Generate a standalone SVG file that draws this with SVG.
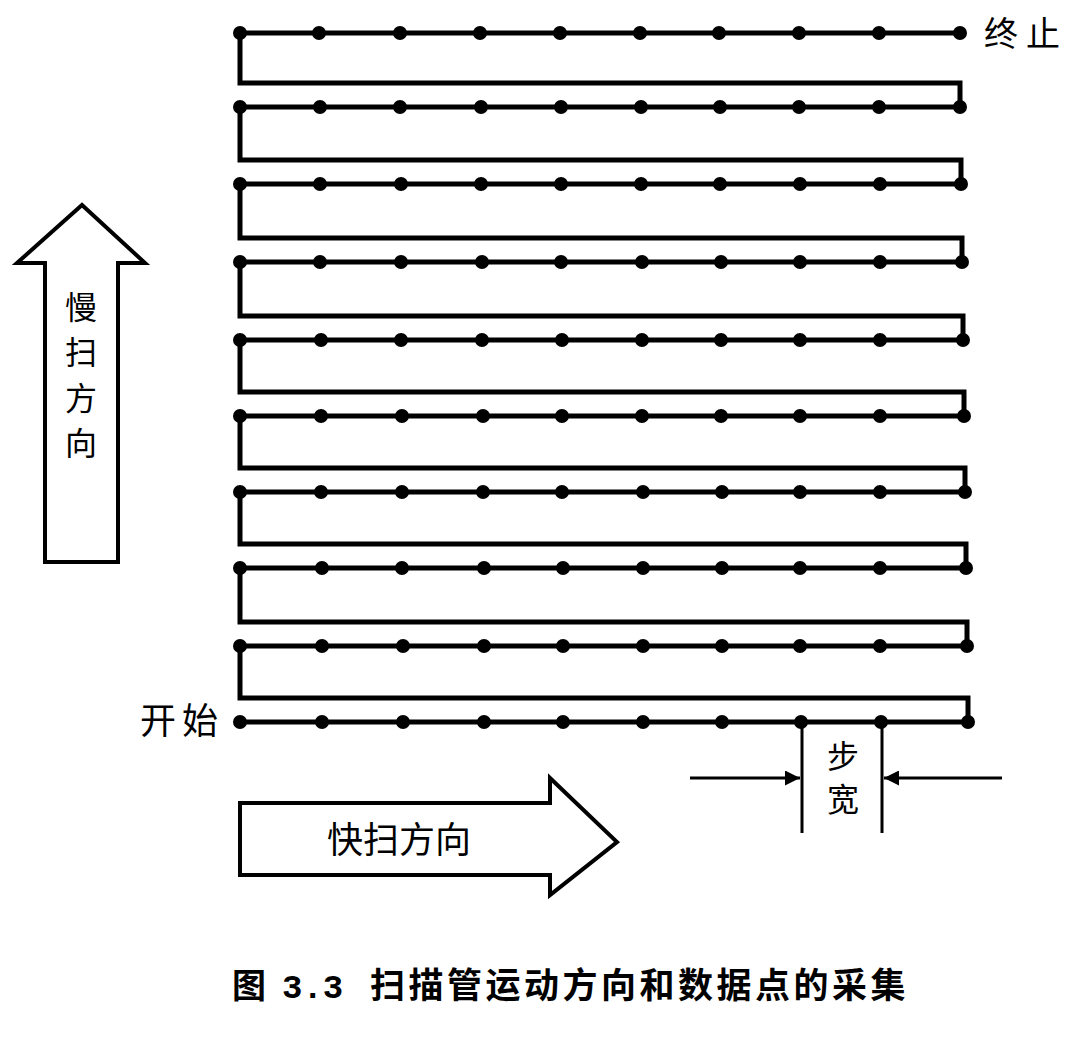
<svg xmlns="http://www.w3.org/2000/svg" width="1080" height="1043" viewBox="0 0 1080 1043">
<style>
.scan{fill:none;stroke:#000;stroke-width:5;stroke-linejoin:miter}
.dot{fill:#000}
.arrow{fill:#fff;stroke:#000;stroke-width:4;stroke-linejoin:miter}
.t{font-family:"Noto Sans CJK SC","Liberation Sans",sans-serif;fill:#000}
.dim{stroke:#000;stroke-width:3;fill:none}
.cap{font-family:"Noto Sans CJK SC","Liberation Sans",sans-serif;font-weight:bold;fill:#000}
.num{font-family:"Liberation Mono",monospace;font-weight:bold;fill:#000}
</style>
<defs>
<marker id="ah" viewBox="0 0 10 10" refX="10" refY="5" markerWidth="8" markerHeight="5" orient="auto" markerUnits="strokeWidth">
<path d="M0,0 L10,5 L0,10 z" fill="#000"/>
</marker>
</defs>
<rect width="1080" height="1043" fill="#fff"/>
<g id="connectors">
<path class="scan" d="M240,722 H968 V698 H240 V646 H967 V622 H240 V568 H966 V544 H240 V492 H965 V468 H240 V416 H964 V392 H240 V340 H963 V316 H240 V262 H962 V238 H240 V184 H961 V160 H240 V107 H960 V83 H240 V33 H960"/>
</g>
<g id="dots" class="dot">
<g id="row1"><circle cx="240" cy="33" r="7"/><circle cx="319" cy="33" r="7"/><circle cx="400" cy="33" r="7"/><circle cx="480" cy="33" r="7"/><circle cx="560" cy="33" r="7"/><circle cx="640" cy="33" r="7"/><circle cx="719" cy="33" r="7"/><circle cx="799" cy="33" r="7"/><circle cx="879" cy="33" r="7"/><circle cx="960" cy="33" r="7"/></g>
<g id="row2"><circle cx="240" cy="107" r="7"/><circle cx="320" cy="107" r="7"/><circle cx="400" cy="107" r="7"/><circle cx="481" cy="107" r="7"/><circle cx="561" cy="107" r="7"/><circle cx="641" cy="107" r="7"/><circle cx="720" cy="107" r="7"/><circle cx="799" cy="107" r="7"/><circle cx="879" cy="107" r="7"/><circle cx="960" cy="107" r="7"/></g>
<g id="row3"><circle cx="240" cy="184" r="7"/><circle cx="320" cy="184" r="7"/><circle cx="401" cy="184" r="7"/><circle cx="481" cy="184" r="7"/><circle cx="561" cy="184" r="7"/><circle cx="641" cy="184" r="7"/><circle cx="720" cy="184" r="7"/><circle cx="800" cy="184" r="7"/><circle cx="880" cy="184" r="7"/><circle cx="961" cy="184" r="7"/></g>
<g id="row4"><circle cx="240" cy="262" r="7"/><circle cx="320" cy="262" r="7"/><circle cx="401" cy="262" r="7"/><circle cx="482" cy="262" r="7"/><circle cx="561" cy="262" r="7"/><circle cx="642" cy="262" r="7"/><circle cx="721" cy="262" r="7"/><circle cx="800" cy="262" r="7"/><circle cx="880" cy="262" r="7"/><circle cx="962" cy="262" r="7"/></g>
<g id="row5"><circle cx="240" cy="340" r="7"/><circle cx="321" cy="340" r="7"/><circle cx="401" cy="340" r="7"/><circle cx="482" cy="340" r="7"/><circle cx="562" cy="340" r="7"/><circle cx="642" cy="340" r="7"/><circle cx="721" cy="340" r="7"/><circle cx="800" cy="340" r="7"/><circle cx="880" cy="340" r="7"/><circle cx="963" cy="340" r="7"/></g>
<g id="row6"><circle cx="240" cy="416" r="7"/><circle cx="321" cy="416" r="7"/><circle cx="402" cy="416" r="7"/><circle cx="483" cy="416" r="7"/><circle cx="562" cy="416" r="7"/><circle cx="642" cy="416" r="7"/><circle cx="721" cy="416" r="7"/><circle cx="800" cy="416" r="7"/><circle cx="880" cy="416" r="7"/><circle cx="964" cy="416" r="7"/></g>
<g id="row7"><circle cx="240" cy="492" r="7"/><circle cx="321" cy="492" r="7"/><circle cx="402" cy="492" r="7"/><circle cx="483" cy="492" r="7"/><circle cx="562" cy="492" r="7"/><circle cx="643" cy="492" r="7"/><circle cx="722" cy="492" r="7"/><circle cx="800" cy="492" r="7"/><circle cx="880" cy="492" r="7"/><circle cx="965" cy="492" r="7"/></g>
<g id="row8"><circle cx="240" cy="568" r="7"/><circle cx="322" cy="568" r="7"/><circle cx="402" cy="568" r="7"/><circle cx="484" cy="568" r="7"/><circle cx="563" cy="568" r="7"/><circle cx="643" cy="568" r="7"/><circle cx="722" cy="568" r="7"/><circle cx="800" cy="568" r="7"/><circle cx="880" cy="568" r="7"/><circle cx="966" cy="568" r="7"/></g>
<g id="row9"><circle cx="240" cy="646" r="7"/><circle cx="322" cy="646" r="7"/><circle cx="403" cy="646" r="7"/><circle cx="484" cy="646" r="7"/><circle cx="563" cy="646" r="7"/><circle cx="643" cy="646" r="7"/><circle cx="722" cy="646" r="7"/><circle cx="800" cy="646" r="7"/><circle cx="880" cy="646" r="7"/><circle cx="967" cy="646" r="7"/></g>
<g id="row10"><circle cx="240" cy="722" r="7"/><circle cx="322" cy="722" r="7"/><circle cx="403" cy="722" r="7"/><circle cx="484" cy="722" r="7"/><circle cx="563" cy="722" r="7"/><circle cx="643" cy="722" r="7"/><circle cx="722" cy="722" r="7"/><circle cx="801" cy="722" r="7"/><circle cx="881" cy="722" r="7"/><circle cx="968" cy="722" r="7"/></g>
</g>
<g id="label-end"><text class="t" x="984" y="46" font-size="34" letter-spacing="8">终止</text></g>
<g id="label-start"><text class="t" x="140" y="734" font-size="36" letter-spacing="6">开始</text></g>
<g id="slow-arrow">
<polygon class="arrow" points="82,205 145,263 118,263 118,562 45,562 45,263 17,263"/>
<text class="t" x="81" y="319" font-size="32" text-anchor="middle">慢</text>
<text class="t" x="81" y="364" font-size="32" text-anchor="middle">扫</text>
<text class="t" x="81" y="410" font-size="32" text-anchor="middle">方</text>
<text class="t" x="81" y="455" font-size="32" text-anchor="middle">向</text>
</g>
<g id="fast-arrow">
<polygon class="arrow" points="240,803 550,803 550,778 617,842 550,895 550,875 240,875"/>
<text class="t" x="399" y="853" font-size="36" text-anchor="middle">快扫方向</text>
</g>
<g id="step-width">
<line class="dim" x1="802" y1="722" x2="802" y2="833"/>
<line class="dim" x1="882" y1="722" x2="882" y2="833"/>
<line class="dim" x1="690" y1="778" x2="800" y2="778" marker-end="url(#ah)"/>
<line class="dim" x1="1002" y1="778" x2="884" y2="778" marker-end="url(#ah)"/>
<text class="t" x="843" y="768" font-size="32" text-anchor="middle">步</text>
<text class="t" x="843" y="811" font-size="32" text-anchor="middle">宽</text>
</g>
<g id="caption">
<text class="cap" x="232" y="998" font-size="34">图</text>
<text class="num" x="282" y="998" font-size="34">3.3</text>
<text class="cap" x="370" y="998" font-size="35" letter-spacing="3.5">扫描管运动方向和数据点的采集</text>
</g>
</svg>
